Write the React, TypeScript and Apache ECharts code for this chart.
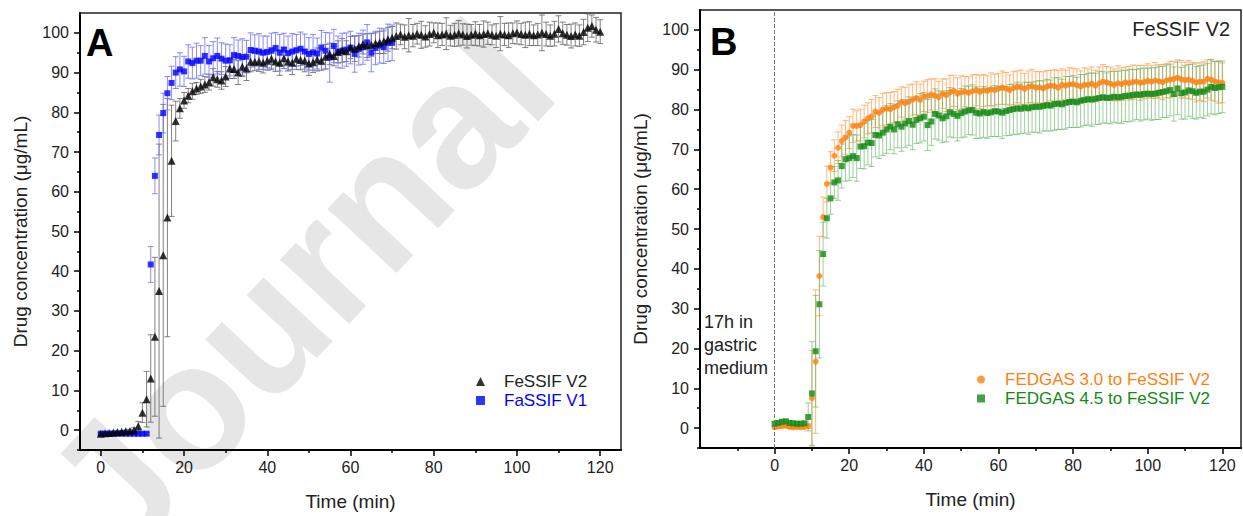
import React, { useEffect, useRef } from "react";
import * as echarts from "echarts";

const FONT = '"Liberation Sans", Arial, Helvetica, sans-serif';

// ---------- Panel A (1-min sampling, t = index in minutes) ----------
const fessifV2 = [
  -0.9, -0.8, -0.7, -0.6, -0.5, -0.4, -0.3, -0.2, 0.0, 1.0,
  4.4, 7.8, 13, 23.5, 35, 44, 53.5, 67.8, 77.8, 81,
  83, 84.2, 85.3, 86, 86.5, 87, 87.6, 88.8, 88.3, 88,
  89, 91, 90.9, 90, 91.5, 91, 92.7, 92.7, 92.8, 92.5,
  93, 93.5, 92.8, 92.5, 93.6, 92.8, 92.5, 93.5, 93.2, 93,
  92.3, 92.6, 93.3, 93, 94, 94.7, 94.2, 95.2, 95.6, 95.4,
  96.3, 96, 96.6, 97.2, 96.8, 97, 97.4, 97.6, 97.9, 98.4,
  98.8, 99.2, 99.6, 99, 99.4, 99.3, 99.8, 99.5, 99.1, 99.7,
  100, 99.4, 99.6, 99.8, 99.3, 99.5, 99.9, 99.6, 99.2, 99.5,
  99.8, 99.4, 99.7, 99.9, 99.5, 99.3, 99.8, 99.6, 99.4, 99.9,
  100.1, 99.7, 99.5, 99.8, 99.4, 99.6, 100, 99.7, 99.3, 99.8,
  101, 99.9, 99.5, 99.2, 99.6, 99.3, 100.2, 101.3, 101.7, 100.8,
  100.3,
];
const sdFessifV2 = [
  0.3, 0.3, 0.3, 0.3, 0.3, 0.3, 0.3, 0.4, 0.6, 1.2,
  2.5, 7, 11, 20, 37, 38, 30, 14, 5, 2.5,
  2, 1.8, 2, 1.5, 1.8, 2, 2, 2.2, 2, 2.2,
  2.5, 2.5, 2.4, 3, 2.5, 3, 2.5, 2.2, 2.5, 2.6,
  2.4, 2.8, 2.5, 3.2, 2.6, 2.4, 3, 2.7, 2.5, 2.8,
  3, 2.6, 2.9, 2.4, 3.1, 2.7, 2.5, 2.8, 3, 2.6,
  2.8, 3.2, 2.7, 2.5, 3, 2.9, 2.6, 2.8, 3.1, 3,
  2.8, 3.3, 2.6, 3, 4.2, 2.8, 2.6, 3.4, 2.7, 3,
  2.5, 3.1, 2.8, 4, 2.6, 2.9, 3.2, 2.7, 3, 2.6,
  3, 2.7, 3.3, 2.8, 2.5, 3, 4.3, 2.8, 3.1, 2.6,
  2.9, 2.7, 3.2, 3, 2.6, 2.8, 4.5, 3, 2.7, 3.1,
  3.3, 2.8, 2.6, 3, 2.9, 2.7, 3.2, 3.5, 2.8, 3.1,
  3,
];
const fassifV1 = [
  -0.9, -0.9, -0.9, -0.9, -0.9, -0.9, -0.9, -0.9, -0.9, -0.9,
  -0.9, -0.9, 41.7, 64, 74.3, 79.8, 84.8, 87.4, 90, 90.8,
  90.3, 92.8, 92.4, 93, 93, 94.2, 92.8, 93.6, 94.2, 93.5,
  93, 93.1, 94.4, 94.2, 93.9, 94, 95.7, 95.5, 95.3, 95,
  95.2, 95.5, 96.2, 95, 95.8, 94.9, 95.3, 95.6, 96, 95.3,
  94.7, 95.1, 94.8, 96.3, 95.5, 93.8, 96.7, 95.2, 95.5, 95.8,
  96.3, 94.7, 95.9, 96.4, 97.6, 95, 96.2, 96.8, 96.4, 97.5,
  97.5,
];
const sdFassifV1 = [
  0.3, 0.3, 0.3, 0.3, 0.3, 0.3, 0.3, 0.3, 0.3, 0.3,
  0.3, 0.3, 4.5, 4.5, 5, 5, 4.2, 4.2, 4, 4.2,
  3.8, 4.2, 4, 4.4, 3.8, 4.6, 4, 4.2, 4.5, 4,
  4.2, 3.9, 4.4, 4, 4.6, 4.1, 4.3, 4, 4.5, 4.2,
  4, 4.4, 3.9, 4.6, 4.1, 4.3, 4.5, 4, 4.2, 4.4,
  4.1, 4.5, 3.9, 4.3, 4.6, 6.2, 4.2, 4, 4.4, 4.2,
  4.1, 4.6, 4, 4.3, 4.5, 4.8, 4.2, 4.4, 4.1, 4.7,
  4.5,
];

// ---------- Panel B (FeSSIF V2 after 17 h gastric) ----------
const fedgas30 = [
  0.2, 0.4, 0.5, 0.6, 0.3, 0.2, 0.3, 0.2, 0.3, 0.5,
  7.5, 16.7, 38.2, 53, 61.3, 65.4, 68.4, 70.4, 72.1, 73,
  74.2, 75.9, 75.9, 76.1, 77, 77.8, 78.3, 79.5, 79.2, 80,
  80.2, 80.1, 80.6, 81, 81.9, 81.6, 82, 82.5, 82.9, 82.4,
  83.3, 83.4, 83.8, 83.5, 83.1, 84, 83.6, 84.3, 84.7, 84,
  84.3, 84.5, 84.2, 84.6, 84.9, 84.4, 84.8, 84.7, 85.1, 84.9,
  85.2, 85.5, 85.3, 84.9, 85.4, 85.7, 85.6, 85.2, 85.7, 85.9,
  85.5, 85.6, 85.3, 85.8, 86, 85.9, 85.5, 86.2, 86, 86.3,
  86.4, 86.1, 85.8, 86.2, 86.2, 86.5, 86, 86.6, 87, 86.8,
  86.5, 86.2, 86.6, 86.4, 86.8, 86.6, 86.9, 87, 86.7, 86.9,
  87.2, 87, 87.3, 87.1, 86.9, 87.3, 87.5, 87.7, 88, 87.6,
  87.4, 87.5, 87.2, 86.8, 87, 87, 87.7, 87.5, 87.1, 86.8,
  86.7,
];
const sdFedgas30 = [
  0.4, 0.4, 0.4, 0.4, 0.4, 0.4, 0.4, 0.4, 0.4, 0.6,
  12, 18, 10, 5, 4.5, 4, 4, 4, 4, 4.2,
  4, 4.2, 3.8, 4, 4.1, 3.9, 4.2, 4, 3.8, 4.1,
  4, 4.2, 3.9, 4.1, 3.8, 4, 4.2, 3.9, 4.1, 4,
  3.8, 4.1, 3.9, 4.2, 4, 3.7, 4.1, 4.3, 3.9, 4,
  4.2, 3.8, 4, 4.1, 3.9, 4.2, 4, 3.8, 4.1, 4,
  3.9, 4.2, 4, 3.8, 4.1, 4, 4.3, 3.9, 4, 4.2,
  4.1, 3.9, 4.2, 4, 3.8, 4.1, 4.3, 4, 3.9, 4.2,
  4, 4.1, 3.9, 4.3, 4, 4.2, 3.9, 4.1, 4.3, 4,
  4.2, 4, 4.4, 4.1, 3.9, 4.2, 4.3, 4, 4.4, 4.2,
  4.3, 4.1, 4.5, 4.2, 4.4, 4.3, 4.6, 4.4, 4.5, 4.7,
  4.5, 4.8, 4.6, 4.9, 4.7, 5, 4.8, 5.1, 5, 5.2,
  5,
];
const fedgas45 = [
  1.1, 1.3, 1.6, 1.7, 1.3, 1.2, 1.1, 1.1, 1.2, 2.8,
  8.7, 19.3, 31.1, 43.7, 52.7, 57.7, 61.7, 62.2, 65.8, 67.5,
  67.8, 68.3, 67.8, 70.7, 70.8, 71.7, 71.6, 73.6, 73.5, 74.2,
  75, 75.7, 75, 76.3, 75.7, 76.5, 77.1, 76.2, 77.4, 77.8,
  78.2, 76.1, 77, 78.9, 78.5, 77.8, 78.3, 79.3, 78.9, 78.4,
  79.1, 79.5, 79.8, 79.9, 79.2, 79, 79.4, 79.1, 79.3, 79.6,
  79.5, 79.2, 79.6, 79.9, 80.1, 80.3, 80.2, 80.5, 80.3, 80.6,
  80.7, 80.7, 80.9, 81.1, 81, 81.4, 81.5, 81.3, 81.7, 81.9,
  82, 81.8, 82.2, 82.4, 82.6, 82.5, 82.7, 82.9, 83.1, 82.9,
  83, 83.2, 83.1, 83.2, 83.4, 83.5, 83.6, 83.8, 83.7, 83.9,
  84, 83.9, 84, 84.2, 84.4, 84.6, 84.9, 83.9, 85.3, 84.1,
  84.3, 84.8, 84.6, 84.2, 84.5, 84.5, 85, 85.7, 85.4, 85.6,
  85.7,
];
const sdFedgas45 = [
  0.5, 0.5, 0.5, 0.5, 0.5, 0.5, 0.5, 0.5, 0.5, 3.5,
  13, 14, 13.5, 8, 5, 4, 4, 5, 5.5, 5.5,
  5.6, 5.4, 5.8, 5.5, 5.7, 5.6, 5.9, 5.5, 5.8, 5.7,
  6, 5.8, 6.1, 5.9, 6.2, 6, 6.1, 6.3, 5.9, 6.2,
  6.1, 6.4, 6, 6.3, 6.2, 6.1, 6.4, 6.2, 6, 6.3,
  6.2, 6.4, 6.1, 6.3, 6.5, 6.2, 6.4, 6.3, 6.1, 6.4,
  6.3, 6.5, 6.2, 6.4, 6.3, 6.6, 6.2, 6.4, 6.5, 6.3,
  6.4, 6.6, 6.3, 6.5, 6.4, 6.6, 6.5, 6.3, 6.6, 6.4,
  6.5, 6.3, 6.6, 6.4, 6.5, 6.7, 6.4, 6.6, 6.5, 6.3,
  6.6, 6.4, 6.5, 6.7, 6.4, 6.6, 6.5, 6.3, 6.6, 6.5,
  6.4, 6.6, 6.5, 6.7, 6.4, 6.6, 6.5, 6.8, 6.6, 6.5,
  6.7, 6.5, 6.8, 6.6, 6.5, 6.7, 6.6, 6.8, 6.7, 6.6,
  6.5,
];

// ---------- Axis ticks ----------
const xMajorTicks = [0, 20, 40, 60, 80, 100, 120];
const xMinorTicksA = [10, 30, 50, 70, 90, 110];
const xMinorTicksB = [-10, 10, 30, 50, 70, 90, 110];
const yMajorTicks = [0, 10, 20, 30, 40, 50, 60, 70, 80, 90, 100];
const yMinorTicks = [-5, 5, 15, 25, 35, 45, 55, 65, 75, 85, 95];

const seriesNames = {
  a1: "FeSSIF V2",
  a2: "FaSSIF V1",
  b1: "FEDGAS 3.0 to FeSSIF V2",
  b2: "FEDGAS 4.5 to FeSSIF V2",
};

const toPoints = (vals: number[]) => vals.map((v, i) => [i, v]);
const toErr = (vals: number[], sd: number[]) => vals.map((v, i) => [i, v, sd[i]]);

function errorSeries(color: string, axisIdx: number, data: number[][]) {
  return {
    type: "custom",
    xAxisIndex: axisIdx,
    yAxisIndex: axisIdx,
    data,
    silent: true,
    clip: true,
    z: 1,
    encode: { x: 0, y: 1 },
    renderItem: (_params: any, api: any) => {
      const x = api.value(0);
      const y = api.value(1);
      const e = api.value(2);
      const p1 = api.coord([x, y + e]);
      const p2 = api.coord([x, y - e]);
      const c = 3;
      const style = { stroke: color, lineWidth: 1 };
      return {
        type: "group",
        children: [
          { type: "line", shape: { x1: p1[0], y1: p1[1], x2: p2[0], y2: p2[1] }, style },
          { type: "line", shape: { x1: p1[0] - c, y1: p1[1], x2: p1[0] + c, y2: p1[1] }, style },
          { type: "line", shape: { x1: p2[0] - c, y1: p2[1], x2: p2[0] + c, y2: p2[1] }, style },
        ],
      };
    },
  };
}

const labelStyle = { fontSize: 16, color: "#222", fontFamily: FONT };
const nameStyle = { fontSize: 19, color: "#222", fontFamily: FONT, fontWeight: "normal" };

function majorX(gridIndex: number, min: number, max: number) {
  return {
    type: "value",
    gridIndex,
    min,
    max,
    position: "bottom",
    name: "Time (min)",
    nameLocation: "middle",
    nameGap: 42,
    nameTextStyle: nameStyle,
    axisLine: { show: true, onZero: false, lineStyle: { color: "#000", width: 2 } },
    axisTick: { show: true, customValues: xMajorTicks, length: 6, lineStyle: { color: "#000", width: 1.5 } },
    axisLabel: { ...labelStyle, customValues: xMajorTicks, margin: 9 },
    splitLine: { show: false },
  };
}
function minorX(gridIndex: number, min: number, max: number, ticks: number[]) {
  return {
    type: "value",
    gridIndex,
    min,
    max,
    position: "bottom",
    axisLine: { show: false, onZero: false },
    axisTick: { show: true, customValues: ticks, length: 3, lineStyle: { color: "#000", width: 1.5 } },
    axisLabel: { show: false },
    splitLine: { show: false },
  };
}
function majorY(gridIndex: number) {
  return {
    type: "value",
    gridIndex,
    min: -5,
    max: 105,
    position: "left",
    name: "Drug concentration (\u03bcg/mL)",
    nameLocation: "middle",
    nameGap: 50,
    nameTextStyle: nameStyle,
    axisLine: { show: true, onZero: false, lineStyle: { color: "#000", width: 2 } },
    axisTick: { show: true, customValues: yMajorTicks, length: 6, lineStyle: { color: "#000", width: 1.5 } },
    axisLabel: { ...labelStyle, customValues: yMajorTicks, margin: 11 },
    splitLine: { show: false },
  };
}
function minorY(gridIndex: number) {
  return {
    type: "value",
    gridIndex,
    min: -5,
    max: 105,
    position: "left",
    axisLine: { show: false, onZero: false },
    axisTick: { show: true, customValues: yMinorTicks, length: 3, lineStyle: { color: "#000", width: 1.5 } },
    axisLabel: { show: false },
    splitLine: { show: false },
  };
}

export default function App() {
  const ref = useRef<HTMLDivElement>(null);
  useEffect(() => {
    if (!ref.current) return;
    const chart = echarts.init(ref.current, undefined, { renderer: "svg" });
    const option: any = {
      animation: false,
      backgroundColor: "#fff",
      grid: [
        { left: 80, top: 13, width: 541, height: 440, show: true, borderColor: "#222", borderWidth: 1.5 },
        { left: 700, top: 10, width: 541, height: 438, show: true, borderColor: "#222", borderWidth: 1.5 },
      ],
      xAxis: [majorX(0, -5, 125), minorX(0, -5, 125, xMinorTicksA), majorX(1, -20, 125), minorX(1, -20, 125, xMinorTicksB)],
      yAxis: [majorY(0), minorY(0), majorY(1), minorY(1)],
      legend: [
        {
          left: 476,
          top: 373,
          orient: "vertical",
          padding: 0,
          itemWidth: 9,
          itemHeight: 9,
          itemGap: 2,
          textStyle: { fontSize: 17, fontFamily: FONT, padding: [0, 0, 0, 14] },
          data: [
            { name: seriesNames.a1, textStyle: { color: "#222", padding: [0, 0, 0, 14] } },
            { name: seriesNames.a2, textStyle: { color: "#0000ff", padding: [0, 0, 0, 14] } },
          ],
        },
        {
          left: 977,
          top: 371,
          orient: "vertical",
          padding: 0,
          itemWidth: 8,
          itemHeight: 8,
          itemGap: 2,
          textStyle: { fontSize: 17, fontFamily: FONT, padding: [0, 0, 0, 15] },
          data: [
            { name: seriesNames.b1, textStyle: { color: "#ff7f0e", padding: [0, 0, 0, 15] } },
            { name: seriesNames.b2, textStyle: { color: "#138a13", padding: [0, 0, 0, 15] } },
          ],
        },
      ],
      graphic: [
        {
          type: "text",
          x: 80,
          y: 522,
          rotation: 0.82,
          silent: true,
          z: -10,
          style: {
            text: "Journal",
            fill: "#e6e6e6",
            fontSize: 178,
            fontWeight: "bold",
            fontFamily: FONT,
            verticalAlign: "middle",
          },
        },
        {
          type: "text",
          left: 86,
          top: 24,
          style: { text: "A", fontSize: 38, fontWeight: "bold", fontFamily: FONT, fill: "#000" },
        },
        {
          type: "text",
          left: 710,
          top: 23,
          style: { text: "B", fontSize: 38, fontWeight: "bold", fontFamily: FONT, fill: "#000" },
        },
        {
          type: "text",
          right: 13,
          top: 19,
          style: { text: "FeSSIF V2", fontSize: 20, fontFamily: FONT, fill: "#222" },
        },
        {
          type: "text",
          left: 704,
          top: 310,
          style: {
            text: "17h in\ngastric\nmedium",
            fontSize: 18,
            lineHeight: 23,
            fontFamily: FONT,
            fill: "#222",
          },
        },
      ],
      series: [
        errorSeries("rgba(90,90,90,0.75)", 0, toErr(fessifV2, sdFessifV2)),
        errorSeries("rgba(110,110,255,0.8)", 0, toErr(fassifV1, sdFassifV1)),
        {
          name: seriesNames.a1,
          type: "scatter",
          xAxisIndex: 0,
          yAxisIndex: 0,
          symbol: "triangle",
          symbolSize: 8,
          itemStyle: { color: "#000" },
          z: 4,
          data: toPoints(fessifV2),
        },
        {
          name: seriesNames.a2,
          type: "scatter",
          xAxisIndex: 0,
          yAxisIndex: 0,
          symbol: "rect",
          symbolSize: 6,
          itemStyle: { color: "#0000ff" },
          z: 3,
          data: toPoints(fassifV1),
        },
        errorSeries("rgba(255,160,80,0.75)", 2, toErr(fedgas30, sdFedgas30)),
        errorSeries("rgba(90,175,90,0.6)", 2, toErr(fedgas45, sdFedgas45)),
        {
          name: seriesNames.b1,
          type: "scatter",
          xAxisIndex: 2,
          yAxisIndex: 2,
          symbol: "circle",
          symbolSize: 6,
          itemStyle: { color: "#ff7f0e" },
          z: 4,
          data: toPoints(fedgas30),
          markLine: {
            silent: true,
            symbol: "none",
            label: { show: false },
            lineStyle: { color: "#777", type: [4, 2], width: 1 },
            data: [{ xAxis: 0 }],
          },
        },
        {
          name: seriesNames.b2,
          type: "scatter",
          xAxisIndex: 2,
          yAxisIndex: 2,
          symbol: "rect",
          symbolSize: 6,
          itemStyle: { color: "#138a13" },
          z: 4,
          data: toPoints(fedgas45),
        },
      ],
    };
    chart.setOption(option);
    return () => chart.dispose();
  }, []);
  return (
    <div
      ref={ref}
      style={{ position: "fixed", left: 0, top: 0, width: 1243, height: 516, background: "#fff" }}
    />
  );
}
